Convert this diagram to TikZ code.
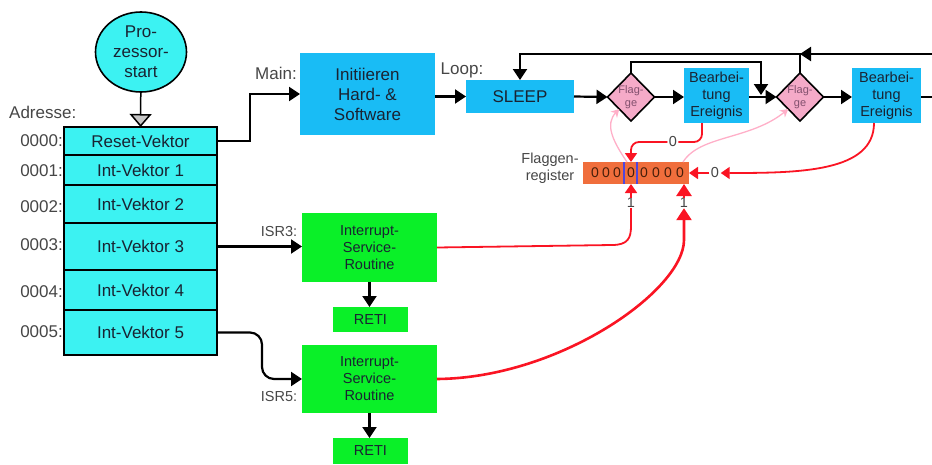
\documentclass[tikz,border=0pt]{standalone}
\usepackage{fontspec}
\setmainfont{Liberation Sans}
\usetikzlibrary{arrows.meta,shapes.geometric}
\definecolor{tcyan}{RGB}{60,242,242}
\definecolor{bblue}{RGB}{25,188,245}
\definecolor{ggreen}{RGB}{10,240,40}
\definecolor{dpink}{RGB}{245,170,200}
\definecolor{rorange}{RGB}{240,110,60}
\definecolor{redc}{RGB}{250,20,35}
\definecolor{pinkc}{RGB}{255,175,200}
\definecolor{lblgray}{RGB}{70,70,70}
\definecolor{txtdark}{RGB}{25,35,50}
\definecolor{dtxtc}{RGB}{130,80,110}
\definecolor{bitc}{RGB}{70,30,10}
\definecolor{barblue}{RGB}{80,70,220}
\begin{document}
\begin{tikzpicture}[x=1pt,y=-1pt,
  big/.style={font=\fontsize{17}{20}\selectfont},
  mid/.style={font=\fontsize{14.5}{17}\selectfont},
  lbl/.style={text=lblgray, inner sep=0},
  vrow/.style={draw, line width=1.6pt, fill=tcyan, minimum width=153pt, anchor=north west, inner sep=0, outer sep=0, big, text=txtdark},
  bbox/.style={fill=bblue, inner sep=0, outer sep=0, anchor=north west, align=center, text=txtdark},
  gbox/.style={fill=ggreen, inner sep=0, outer sep=0, anchor=north west, align=center, text=txtdark},
  dia/.style={diamond, draw, line width=1.6pt, fill=dpink, minimum width=47pt, minimum height=48pt, inner sep=0, outer sep=0},
  dtxt/.style={font=\fontsize{11}{13}\selectfont, text=dtxtc, align=center, inner sep=0},
  bit/.style={font=\fontsize{14}{16}\selectfont, text=bitc, inner sep=0},
  zlab/.style={mid, text=lblgray, fill=white, inner sep=1.5pt},
  blk/.style={line width=2.2pt, -{Triangle[length=11pt,width=14pt]}},
  blkl/.style={line width=2.2pt},
  redar/.style={color=redc, line width=1.8pt, -{Triangle[length=9pt,width=12pt]}},
  redl/.style={color=redc, line width=1.8pt},
  bigred/.style={color=redc, line width=2.6pt, -{Triangle[length=12pt,width=15pt]}},
  pinkar/.style={color=pinkc, line width=1.3pt, -{Stealth[length=8pt,width=9pt]}}
]
\useasboundingbox (0,0) rectangle (932,464);

% start circle
\node[ellipse, draw, line width=1.6pt, fill=tcyan, minimum width=91pt, minimum height=80pt, inner sep=0, align=center, big, text=txtdark] (start) at (141,52) {Pro-\\zessor-\\start};

% vector table
\node[vrow, minimum height=28pt] (r0) at (64,127) {Reset-Vektor};
\node[vrow, minimum height=30pt] (r1) at (64,155) {Int-Vektor 1};
\node[vrow, minimum height=38pt] (r2) at (64,185) {Int-Vektor 2};
\node[vrow, minimum height=47pt] (r3) at (64,223) {Int-Vektor 3};
\node[vrow, minimum height=40pt] (r4) at (64,270) {Int-Vektor 4};
\node[vrow, minimum height=45pt] (r5) at (64,310) {Int-Vektor 5};

\node[lbl, big, anchor=west] (adr) at (9,112) {Adresse:};
\node[lbl, big, anchor=east] (a0) at (63,141) {0000:};
\node[lbl, big, anchor=east] (a1) at (63,171) {0001:};
\node[lbl, big, anchor=east] (a2) at (63,207) {0002:};
\node[lbl, big, anchor=east] (a3) at (63,245) {0003:};
\node[lbl, big, anchor=east] (a4) at (63,292) {0004:};
\node[lbl, big, anchor=east] (a5) at (63,332) {0005:};

\draw[line width=1.5pt, -{Triangle[length=13pt,width=22pt,fill=gray!45]}] (start) -- (r0);

% main flow
\node[bbox, minimum width=135pt, minimum height=82pt, big] (init) at (300,53) {Initiieren\\Hard- \&\\Software};
\node[bbox, minimum width=108pt, minimum height=33pt, big] (sleep) at (466,80) {SLEEP};
\node[dia] (d1) at (631,97) {};
\node[dtxt] (d1t) at (631,97) {Flag-\\ge};
\node[bbox, minimum width=65pt, minimum height=55pt, mid] (bb1) at (684,68) {Bearbei-\\tung\\Ereignis};
\node[dia] (d2) at (800,97) {};
\node[dtxt] (d2t) at (800,97) {Flag-\\ge};
\node[bbox, minimum width=69pt, minimum height=55pt, mid] (bb2) at (852,68) {Bearbei-\\tung\\Ereignis};

\node[lbl, big] (lmain) at (276,73) {Main:};
\node[lbl, big] (lloop) at (462,70) {Loop:};

\draw[blk] (r0.east) -- ++(33,0) |- (init.west);
\draw[blk] (init.east |- sleep.west) -- (sleep.west);
\draw[blk] (sleep.east) -- (d1.west);
\draw[blk] (d1.east) -- (d1.east -| bb1.west);
\draw[blk] (bb1.east |- d2.west) -- (d2.west);
\draw[blk] (d2.east) -- (d2.east -| bb2.west);
\coordinate (outR) at (932,97);
\draw[blkl] (bb2.east |- outR) -- (outR);

\coordinate (topR) at (932,54);
\coordinate (j1) at (761,95);
\draw[blk] (topR) -- (d2.north |- topR);
\draw[blk] (d2.north) -- (d2.north |- topR) -| (sleep.north);
\draw[blk] (d1.north) -- ++(0,-11) -| (j1);

% flag register
\node[lbl, mid, align=center] (flg) at (550,168) {Flaggen-\\register};
\node[fill=rorange, minimum width=106pt, minimum height=22pt, inner sep=0, outer sep=0, anchor=north west] (reg) at (583,162) {};
\foreach \x [count=\i] in {595,606,617,631,644,656,668,680}
  \node[bit] (b\i) at (\x,173) {0};
\draw[color=barblue, line width=1.4pt] (624,162) -- (624,184);
\draw[color=barblue, line width=1.4pt] (637,162) -- (637,184);

% ISRs
\node[gbox, minimum width=135pt, minimum height=69pt, mid] (isr3) at (302,213) {Interrupt-\\Service-\\Routine};
\node[gbox, minimum width=75pt, minimum height=25pt, mid] (reti1) at (333,307) {RETI};
\node[gbox, minimum width=135pt, minimum height=68pt, mid] (isr5) at (302,345) {Interrupt-\\Service-\\Routine};
\node[gbox, minimum width=75pt, minimum height=26pt, mid] (reti2) at (333,438) {RETI};
\node[lbl, mid] (lisr3) at (279,232) {ISR3:};
\node[lbl, mid] (lisr5) at (279,397) {ISR5:};

\draw[blk] (r3.east) -- (r3.east -| isr3.west);
\coordinate (k5) at (262,379);
\draw[blk, rounded corners=12pt] (r5.east) -| (k5) -- (isr5.west);
\draw[blk] (isr3.south) -- (isr3.south |- reti1.north);
\draw[blk] (isr5.south) -- (isr5.south |- reti2.north);

% red connectors
\coordinate (bb1o) at (702,123);
\coordinate (bb2o) at (874,123);
\draw[redar, rounded corners=8pt] (bb1o) -- (702,142) -- node[zlab, pos=0.41] (z1) {0} (631,142) -- (reg.north -| b4);
\node[zlab] (z2) at (715,173) {0};
\draw[redar] (bb2o) .. controls (874,172) and (800,173) .. (z2.east);
\draw[redar] (z2.west) -- (reg.east);

\node[lbl, mid] (o1) at (631,203) {1};
\node[lbl, mid] (o2) at (684,203) {1};
\draw[redl] (isr3.east) -- (612,245) .. controls (628,245) and (631,238) .. (631,226) -- (o1.south);
\draw[redar] (o1.north) -- (reg.south -| o1);
\draw[bigred] (isr5.east) .. controls (560,378) and (684,290) .. (684,240) -- (o2.south);
\draw[bigred] (o2.north) -- (reg.south -| o2);

% pink connectors
\coordinate (pk1) at (627,162);
\coordinate (pk2) at (683,162);
\draw[pinkar] (pk1) .. controls (612,140) and (605,124) .. (d1.south west);
\draw[pinkar] (pk2) .. controls (700,135) and (750,140) .. (d2.south west);
\end{tikzpicture}
\end{document}
